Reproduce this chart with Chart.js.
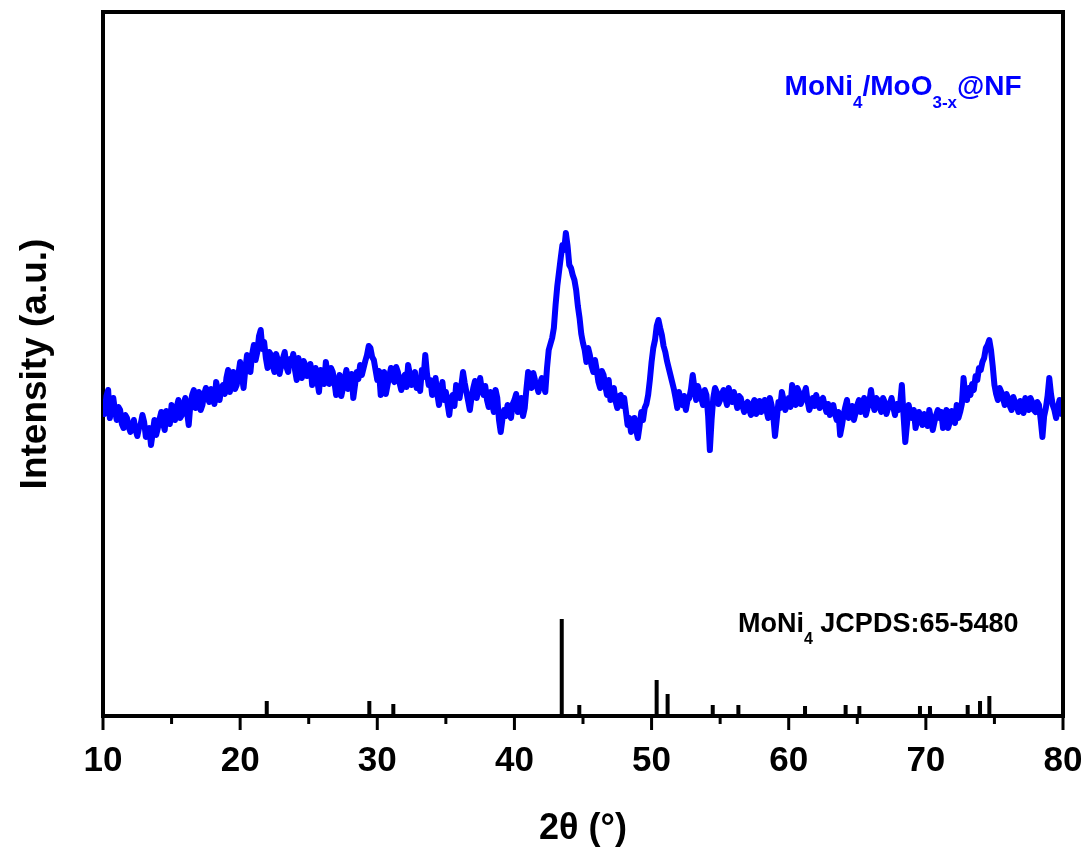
<!DOCTYPE html>
<html>
<head>
<meta charset="utf-8">
<script src="https://cdn.jsdelivr.net/npm/chart.js@4.4.1/dist/chart.umd.min.js"></script>
<style>
  html, body { margin: 0; padding: 0; background: #fff; }
  #wrap { width: 1087px; height: 847px; position: relative; }
</style>
</head>
<body>
<div id="wrap"><canvas id="xrd"></canvas></div>
<script>
// ── data ──
// XRD scan, 10..80 deg, one reading every 0.125 deg (arbitrary units), one row per degree
const intensity = [
  314, 302, 320, 326, 298, 311, 318, 305,
  296, 309, 306, 292, 288, 301, 298, 289,
  284, 290, 296, 286, 280, 288, 292, 301,
  294, 279, 284, 288, 271, 283, 296, 281,
  288, 297, 304, 293, 286, 305, 298, 292,
  311, 303, 296, 309, 316, 298, 301, 312,
  318, 304, 291, 312, 321, 326, 308, 316,
  324, 306, 311, 322, 328, 318, 314, 327,
  320, 312, 334, 326, 316, 327, 331, 322,
  338, 346, 324, 335, 344, 327, 331, 342,
  354, 340, 328, 346, 361, 352, 344, 362,
  371, 356, 364, 380, 386, 367, 374, 358,
  348, 364, 361, 350, 344, 362, 356, 342,
  351, 358, 364, 349, 344, 357, 354, 362,
  346, 336, 358, 345, 338, 355, 351, 340,
  344, 352, 331, 339, 348, 335, 324, 346,
  340, 332, 354, 341, 332, 348, 344, 334,
  321, 332, 341, 320, 328, 338, 346, 327,
  334, 342, 318, 331, 344, 337, 351, 341,
  348, 355, 361, 370, 368, 359, 356, 346,
  336, 345, 321, 334, 344, 322, 331, 340,
  348, 337, 334, 349, 344, 333, 326, 338,
  341, 329, 351, 342, 331, 339, 344, 328,
  336, 325, 346, 339, 361, 342, 331, 336,
  321, 329, 338, 322, 311, 325, 334, 316,
  324, 312, 301, 317, 321, 310, 331, 325,
  318, 330, 344, 333, 324, 315, 306, 319,
  328, 335, 318, 329, 338, 326, 321, 330,
  316, 309, 324, 312, 304, 326, 318, 296,
  284, 297, 306, 300, 311, 303, 298, 312,
  316, 322, 304, 312, 318, 300, 308, 327,
  344, 340, 328, 343, 336, 330, 324, 333,
  338, 330, 324, 348, 366, 372, 378, 388,
  411, 430, 444, 458, 471, 466, 483, 470,
  451, 448, 441, 436, 426, 410, 398, 382,
  373, 366, 354, 368, 361, 350, 344, 356,
  346, 334, 328, 345, 341, 330, 321, 336,
  316, 324, 328, 315, 308, 320, 321, 310,
  318, 305, 291, 298, 284, 290, 298, 286,
  278, 290, 304, 296, 308, 312, 321, 336,
  354, 368, 376, 390, 396, 388, 381, 370,
  364, 355, 348, 341, 334, 327, 318, 308,
  324, 314, 311, 320, 306, 316, 318, 327,
  341, 328, 316, 330, 324, 318, 311, 326,
  321, 300, 266, 296, 318, 328, 324, 312,
  316, 322, 326, 318, 311, 328, 321, 314,
  324, 316, 308, 320, 318, 310, 304, 311,
  314, 306, 301, 312, 316, 302, 306, 315,
  304, 310, 316, 306, 298, 318, 311, 300,
  280, 296, 314, 308, 324, 316, 306, 312,
  318, 309, 331, 320, 311, 328, 324, 312,
  316, 322, 328, 315, 306, 311, 318, 310,
  321, 314, 308, 316, 318, 310, 304, 312,
  301, 306, 311, 302, 296, 304, 281, 290,
  301, 309, 316, 298, 304, 310, 296, 303,
  311, 316, 304, 312, 318, 301, 308, 314,
  326, 313, 306, 318, 316, 309, 304, 318,
  314, 302, 308, 312, 318, 309, 301, 312,
  306, 312, 331, 300, 274, 292, 311, 302,
  298, 306, 288, 296, 304, 298, 291, 302,
  296, 290, 306, 297, 286, 294, 301, 306,
  298, 304, 288, 298, 306, 288, 294, 305,
  301, 293, 311, 298, 304, 312, 338, 320,
  316, 328, 321, 332, 326, 340, 336, 348,
  346, 354, 358, 368, 371, 376, 366, 350,
  331, 322, 316, 328, 324, 318, 311, 322,
  318, 310, 306, 319, 314, 310, 304, 315,
  311, 303, 318, 312, 306, 318, 314, 306,
  304, 314, 311, 296, 279, 300, 308, 320,
  338, 322, 311, 306, 298, 309, 316, 302,
  311
];
const scanStart = 10;
const scanStep = 0.125;

// MoNi4 reference pattern, JCPDS 65-5480
const refPos    = [21.94, 29.42, 31.17, 43.45, 44.73, 50.37, 51.17, 54.46, 56.33, 61.19, 64.15, 65.15, 69.57, 70.30, 73.05, 73.95, 74.63];
const refHeight = [15, 15, 12, 97, 11, 36, 22, 11, 11, 10, 11, 10, 10, 10, 11, 15, 20];

const xTicksMajor = [10, 20, 30, 40, 50, 60, 70, 80];
const xTicksMinor = [15, 25, 35, 45, 55, 65, 75];

const FONT = "'Liberation Sans', Arial, sans-serif";

const scanPts = intensity.map((v, i) => ({ x: scanStart + i * scanStep, y: v }));
const refPts = [];
refPos.forEach((p, i) => {
  refPts.push({ x: p, y: 0 }, { x: p, y: refHeight[i] }, { x: p, y: null });
});

// frame on top/right + outward tick marks
const framePlugin = {
  id: 'frame',
  afterDraw(chart) {
    const { ctx, chartArea: a, scales: { x } } = chart;
    ctx.save();
    ctx.strokeStyle = '#000';
    ctx.lineWidth = 4;
    ctx.beginPath();
    ctx.moveTo(a.left - 2, a.top);
    ctx.lineTo(a.right, a.top);
    ctx.lineTo(a.right, a.bottom + 2);
    ctx.stroke();
    ctx.lineWidth = 3;
    xTicksMajor.forEach(v => {
      const px = x.getPixelForValue(v);
      ctx.beginPath(); ctx.moveTo(px, a.bottom); ctx.lineTo(px, a.bottom + 14); ctx.stroke();
    });
    xTicksMinor.forEach(v => {
      const px = x.getPixelForValue(v);
      ctx.beginPath(); ctx.moveTo(px, a.bottom); ctx.lineTo(px, a.bottom + 8); ctx.stroke();
    });
    ctx.restore();
  }
};

// text with subscripts: parts = [[text, isSub], ...]
function drawRich(ctx, parts, x, y, size, color) {
  ctx.fillStyle = color;
  ctx.textBaseline = 'alphabetic';
  ctx.textAlign = 'left';
  parts.forEach(([t, sub]) => {
    ctx.font = `bold ${sub ? Math.round(size * 0.6) : size}px ${FONT}`;
    ctx.fillText(t, x, sub ? y + size * 0.45 : y);
    x += ctx.measureText(t).width;
  });
}

const labelPlugin = {
  id: 'labels',
  afterDraw(chart) {
    const { ctx, scales: { x, y } } = chart;
    ctx.save();
    drawRich(ctx, [['MoNi', 0], ['4', 1], ['/MoO', 0], ['3-x', 1], ['@NF', 0]],
      x.getPixelForValue(59.7), y.getPixelForValue(621), 28, '#0000ff');
    drawRich(ctx, [['MoNi', 0], ['4', 1], [' JCPDS:65-5480', 0]],
      x.getPixelForValue(56.3), y.getPixelForValue(84), 27, '#000');
    ctx.restore();
  }
};

new Chart(document.getElementById('xrd'), {
  type: 'line',
  data: {
    datasets: [
      {
        data: scanPts,
        borderColor: '#0000ff',
        borderWidth: 6,
        borderJoinStyle: 'round',
        borderCapStyle: 'round',
        pointRadius: 0,
        tension: 0,
      },
      {
        data: refPts,
        borderColor: '#000',
        borderWidth: 4,
        pointRadius: 0,
        spanGaps: false,
      },
    ],
  },
  options: {
    responsive: true,
    maintainAspectRatio: false,
    animation: false,
    layout: { padding: { top: 12, right: 24, left: 0, bottom: 0 } },
    plugins: { legend: { display: false }, tooltip: { enabled: false } },
    scales: {
      x: {
        type: 'linear',
        min: 10,
        max: 80,
        ticks: { stepSize: 10, color: '#000', font: { family: FONT, size: 35, weight: 'bold' }, padding: 24, maxRotation: 0 },
        grid: { display: false, drawTicks: false },
        border: { display: true, color: '#000', width: 4 },
        title: { display: true, text: '2θ (°)', color: '#000', font: { family: FONT, size: 36, weight: 'bold' }, padding: { top: 0, bottom: -4 } },
        afterFit(s) { s.height = 131; s.paddingLeft = 0; s.paddingRight = 0; },
      },
      y: {
        min: 0,
        max: 704,
        ticks: { display: false },
        grid: { display: false, drawTicks: false },
        border: { display: true, color: '#000', width: 4 },
        title: { display: true, text: 'Intensity (a.u.)', color: '#000', font: { family: FONT, size: 37, weight: 'bold' }, padding: { top: 14, bottom: 0 } },
        afterFit(s) { s.width = 103; },
      },
    },
  },
  plugins: [framePlugin, labelPlugin],
});
</script>
</body>
</html>
